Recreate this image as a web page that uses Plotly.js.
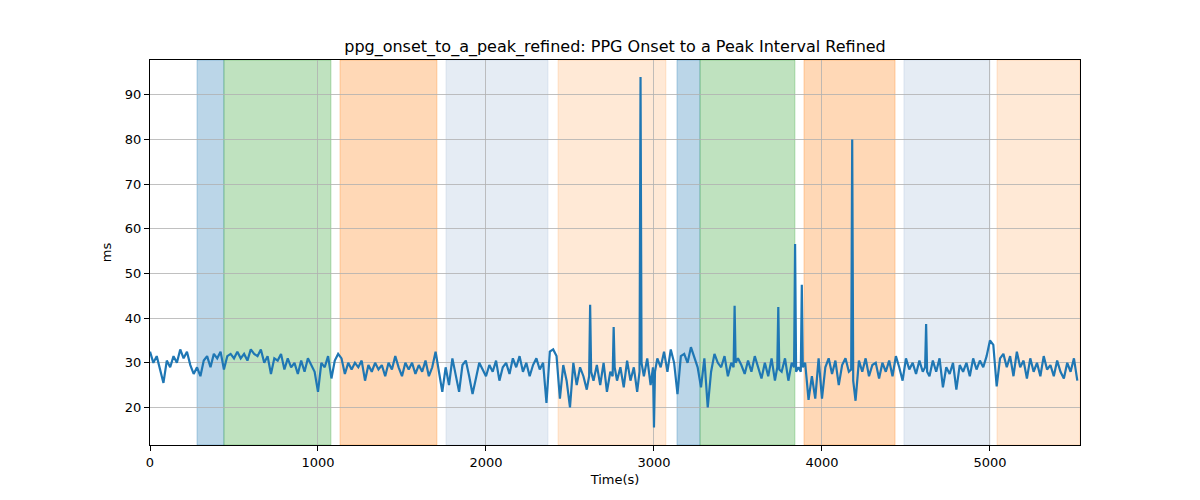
<!DOCTYPE html>
<html>
<head>
<meta charset="utf-8">
<script src="https://cdn.plot.ly/plotly-3.0.1.min.js"></script>
<style>
  html, body { margin: 0; padding: 0; background: #fff; }
  #chart { width: 1200px; height: 500px; }
</style>
</head>
<body>
<div id="chart"></div>
<script>
// sample times (s), roughly one row per 200 s
var times = [
  0, 20, 40, 60, 80, 100, 120, 140, 160, 180,
  200, 220, 240, 260, 280, 300, 320, 340, 360, 380,
  400, 420, 440, 460, 480, 500, 520, 540, 560, 580,
  600, 620, 640, 660, 680, 700, 720, 740, 760, 780,
  800, 820, 840, 860, 880, 900, 920, 940, 960, 980,
  1000, 1020, 1040, 1060, 1080, 1100, 1120, 1140, 1160, 1180,
  1200, 1220, 1240, 1260, 1280, 1300, 1320, 1340, 1360, 1380,
  1400, 1420, 1440, 1460, 1480, 1500, 1520, 1540, 1560, 1580,
  1600, 1620, 1640, 1660, 1680, 1700, 1720, 1740, 1760, 1780,
  1800, 1820, 1840, 1860, 1880, 1900, 1920, 1940, 1960, 1980,
  2000, 2020, 2040, 2060, 2080, 2100, 2120, 2140, 2160, 2180,
  2200, 2220, 2240, 2260, 2280, 2300, 2320, 2340, 2360, 2380,
  2400, 2420, 2440, 2460, 2480, 2500, 2520, 2540, 2560, 2580,
  2600, 2614, 2620, 2626, 2640, 2660, 2680, 2700, 2720, 2740, 2754, 2760, 2766, 2780,
  2800, 2820, 2840, 2860, 2880, 2900, 2914, 2920, 2926, 2940, 2960, 2980,
  2994, 3000, 3006, 3020, 3040, 3060, 3080, 3100, 3120, 3140, 3160, 3180,
  3200, 3220, 3240, 3260, 3280, 3300, 3320, 3340, 3360, 3380,
  3400, 3420, 3440, 3460, 3474, 3480, 3486, 3500, 3520, 3540, 3560, 3580,
  3600, 3620, 3640, 3660, 3680, 3700, 3720, 3734, 3740, 3746, 3760, 3780,
  3800, 3820, 3834, 3840, 3846, 3860, 3874, 3880, 3886, 3900, 3920, 3940, 3960, 3980,
  4000, 4020, 4040, 4060, 4080, 4100, 4120, 4140, 4160, 4174, 4180, 4186,
  4200, 4220, 4240, 4260, 4280, 4300, 4320, 4340, 4360, 4380,
  4400, 4420, 4440, 4460, 4480, 4500, 4520, 4540, 4560, 4580,
  4600, 4614, 4620, 4626, 4640, 4660, 4680, 4700, 4720, 4740, 4760, 4780,
  4800, 4820, 4840, 4860, 4880, 4900, 4920, 4940, 4960, 4980,
  5000, 5020, 5040, 5060, 5080, 5100, 5120, 5140, 5160, 5180,
  5200, 5220, 5240, 5260, 5280, 5300, 5320, 5340, 5360, 5380,
  5400, 5420, 5440, 5460, 5480, 5500, 5520
]

// onset to a-peak interval (ms)
var intervalMs = [
  32.5, 30, 31.5, 28.5, 25.5, 30.5, 29, 31.5, 30, 33,
  31, 32.5, 29.5, 27.5, 29, 27, 30.5, 31.5, 29, 32,
  31, 32.5, 28.5, 31.5, 32, 31, 32.5, 31, 32, 30.5,
  33, 32, 31.5, 33, 30, 31.5, 27.5, 31, 30.5, 32,
  28.5, 31, 29, 30, 27.5, 30.5, 28, 31, 29.5, 28,
  23.5, 30, 29, 31.5, 26.5, 30.5, 32, 31, 27.5, 30,
  28.5, 30, 29, 30.5, 26, 29.5, 28, 30, 28.5, 29.5,
  27, 30, 28.5, 31.5, 29, 27, 30, 28.5, 30, 27.5,
  29.5, 28, 30.5, 27, 29, 32.5, 28, 23.5, 29, 25,
  31, 27, 23.5, 29.5, 30.5, 27, 23, 26.5, 30, 28.5,
  27, 29.5, 28, 30.5, 26, 29, 30, 27.5, 31, 29,
  31.5, 28, 30, 27, 29.5, 31, 28.5, 30, 21, 32.5,
  33, 31.5, 22, 29.5, 26, 20, 30, 25, 29, 27,
  24, 27, 43, 28, 26, 29.5, 25, 30, 23.5, 28, 27, 38, 29, 26,
  29, 24.5, 30.5, 26, 29, 23.5, 28, 94, 30, 27, 31, 25,
  29, 15.5, 28, 31, 29, 32.5, 28, 33, 30, 23, 31.5, 32,
  30, 33.5, 31, 29, 24.5, 31, 20, 28, 32, 30,
  29, 31.5, 27, 30, 29, 42.8, 30, 31, 29.5, 27.5, 30.5, 28,
  31.5, 29, 26.5, 30, 27, 31, 26, 29, 42.5, 28.5, 28, 31,
  26, 30, 29, 56.6, 28, 29, 28, 47.5, 29, 30, 21.7, 27, 22, 31,
  22, 29, 31, 27.5, 30.5, 25, 29.5, 31, 28, 28.5, 80, 26,
  21.5, 30.5, 28, 31, 27, 29.5, 30, 26.5, 30, 28,
  30.5, 27, 31.5, 29, 26, 31, 28.5, 30, 27.5, 30.5,
  28, 29, 38.7, 28, 27, 30.5, 28, 31, 24.5, 29, 27.5, 30,
  24, 29.5, 28, 30, 27, 31, 28.5, 30.5, 29, 31.5,
  35, 34, 24.7, 31, 32, 29, 31.5, 27, 32.5, 29,
  30.5, 26.5, 31, 28, 30, 27, 31.5, 28.5, 29.5, 27,
  30.5, 28, 26.5, 30, 28, 31, 26
]

// shaded segments
var bandStart = [280, 440, 1131, 1762, 2429, 3137, 3274, 3893, 4488, 5042]
var bandEnd   = [440, 1077, 1708, 2369, 3071, 3274, 3839, 4435, 5000, 5536]
var bandColor = [
  'rgba(31,119,180,0.3)', 'rgba(44,160,44,0.3)', 'rgba(255,127,14,0.3)',
  'rgba(176,196,222,0.33)', 'rgba(255,127,14,0.17)',
  'rgba(31,119,180,0.3)', 'rgba(44,160,44,0.3)', 'rgba(255,127,14,0.3)',
  'rgba(176,196,222,0.33)', 'rgba(255,127,14,0.17)'
]

var shapes = []
for (var i = 0; i < bandStart.length; i++) {
  shapes.push({
    type: 'rect', xref: 'x', yref: 'paper',
    x0: bandStart[i], x1: bandEnd[i], y0: 0, y1: 1,
    fillcolor: bandColor[i],
    line: {color: bandColor[i], width: 1},
    layer: 'below'
  })
}

var trace = {
  x: times,
  y: intervalMs,
  mode: 'lines',
  type: 'scatter',
  line: {color: '#1f77b4', width: 2.2}
}

var axisStyle = {
  showline: true, mirror: true, linecolor: '#000', linewidth: 1,
  ticks: 'outside', ticklen: 5, tickcolor: '#000',
  showgrid: true, gridcolor: '#b0b0b0', gridwidth: 0.8,
  zeroline: false,
  tickfont: {size: 13, color: '#000'}
}

var layout = {
  width: 1200, height: 500,
  margin: {l: 150, r: 120, t: 60, b: 55},
  paper_bgcolor: '#fff', plot_bgcolor: '#fff',
  font: {family: 'DejaVu Sans', color: '#000'},
  showlegend: false,
  title: {
    text: 'ppg_onset_to_a_peak_refined: PPG Onset to a Peak Interval Refined',
    font: {size: 16}, x: 0.5125, xanchor: 'center', y: 0.908, yanchor: 'middle'
  },
  xaxis: Object.assign({}, axisStyle, {
    range: [0, 5536], tickvals: [0, 1000, 2000, 3000, 4000, 5000],
    title: {text: 'Time(s)', font: {size: 13}, standoff: 6}
  }),
  yaxis: Object.assign({}, axisStyle, {
    range: [11.6, 97.8], tickvals: [20, 30, 40, 50, 60, 70, 80, 90],
    title: {text: 'ms', font: {size: 13}, standoff: 10}
  }),
  shapes: shapes
}

Plotly.newPlot('chart', [trace], layout, {staticPlot: true})
</script>
</body>
</html>
